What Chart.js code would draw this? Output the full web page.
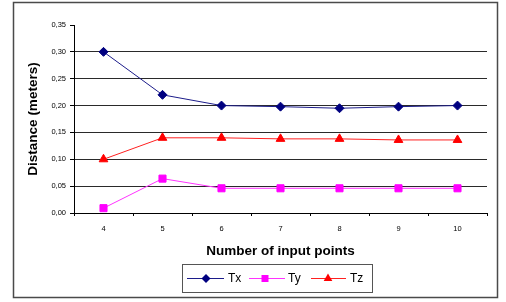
<!DOCTYPE html>
<html>
<head>
<meta charset="utf-8">
<script src="https://cdn.jsdelivr.net/npm/chart.js@4/dist/chart.umd.min.js"></script>
<style>
  html, body { margin: 0; padding: 0; background: #fff; }
  #wrap { width: 506px; height: 302px; position: relative; }
</style>
</head>
<body>
<div id="wrap"><canvas id="c" width="506" height="302"></canvas></div>
<script>
const categories = ['4', '5', '6', '7', '8', '9', '10'];
const txValues = [0.300, 0.220, 0.200, 0.198, 0.195, 0.198, 0.200];
const tyValues = [0.009, 0.064, 0.046, 0.046, 0.046, 0.046, 0.046];
const tzValues = [0.100, 0.140, 0.140, 0.138, 0.138, 0.136, 0.136];
const seriesNames = ['Tx', 'Ty', 'Tz'];
const yTitle = 'Distance (meters)';
const xTitle = 'Number of input points';

const FONT = '"Liberation Sans", Arial, sans-serif';

const frameAndLegend = {
  id: 'frameAndLegend',
  afterDraw(chart) {
    const ctx = chart.ctx;
    ctx.save();
    ctx.strokeStyle = '#4a4a4a';
    ctx.lineWidth = 1.5;
    ctx.strokeRect(13.5, 2.5, 484, 295);
    ctx.strokeStyle = '#555';
    ctx.lineWidth = 1;
    ctx.strokeRect(182.5, 264.5, 190, 28);
    const items = [
      {x0: 187, x1: 224, mx: 206, tx: 228},
      {x0: 249, x1: 285, mx: 265, tx: 288},
      {x0: 311, x1: 346, mx: 328, tx: 350}
    ];
    const y = 278.5;
    chart.data.datasets.forEach((ds, i) => {
      const it = items[i];
      ctx.strokeStyle = ds.borderColor;
      ctx.lineWidth = 1;
      ctx.beginPath();
      ctx.moveTo(it.x0, y); ctx.lineTo(it.x1, y); ctx.stroke();
      ctx.fillStyle = ds.pointBackgroundColor;
      ctx.beginPath();
      if (ds.pointStyle === 'rectRot') {
        const r = 4.5;
        ctx.moveTo(it.mx, y - r); ctx.lineTo(it.mx + r, y); ctx.lineTo(it.mx, y + r); ctx.lineTo(it.mx - r, y);
      } else if (ds.pointStyle === 'rect') {
        ctx.rect(it.mx - 3.5, y - 3.5, 7, 7);
      } else {
        const r = 5;
        ctx.moveTo(it.mx, y - r); ctx.lineTo(it.mx + r * 0.866, y + r / 2); ctx.lineTo(it.mx - r * 0.866, y + r / 2);
      }
      ctx.closePath(); ctx.fill();
      ctx.fillStyle = '#000';
      ctx.font = '12px ' + FONT;
      ctx.textBaseline = 'middle';
      ctx.textAlign = 'left';
      ctx.fillText(ds.label, it.tx, y);
    });
    ctx.restore();
  }
};

new Chart(document.getElementById('c'), {
  type: 'line',
  data: {
    labels: categories,
    datasets: [
      { label: seriesNames[0], data: txValues, borderColor: '#1c1c8a', backgroundColor: '#000080',
        pointBackgroundColor: '#000080', pointBorderColor: '#000080', pointStyle: 'rectRot', pointRadius: 4.5, borderWidth: 1 },
      { label: seriesNames[1], data: tyValues, borderColor: '#ff33ff', backgroundColor: '#ff00ff',
        pointBackgroundColor: '#ff00ff', pointBorderColor: '#ff00ff', pointStyle: 'rect', pointRadius: 5, borderWidth: 1 },
      { label: seriesNames[2], data: tzValues, borderColor: '#ff2020', backgroundColor: '#ff0000',
        pointBackgroundColor: '#ff0000', pointBorderColor: '#ff0000', pointStyle: 'triangle', pointRadius: 5, borderWidth: 1 }
    ]
  },
  options: {
    responsive: false,
    animation: false,
    devicePixelRatio: 1,
    layout: { padding: { left: 25, right: 19, top: 25, bottom: 43 } },
    plugins: { legend: { display: false }, tooltip: { enabled: false } },
    scales: {
      x: {
        type: 'category',
        offset: true,
        afterFit(s) { s.height = 46; },
        grid: { offset: true, drawOnChartArea: false, drawTicks: true, tickLength: 3, color: '#000', tickColor: '#000' },
        border: { display: true, color: '#000', width: 1 },
        ticks: { color: '#000', font: { family: FONT, size: 7.5 }, padding: 8, maxRotation: 0 },
        title: { display: true, text: xTitle, color: '#000', font: { family: FONT, size: 13.5, weight: 'bold' }, padding: 0 }
      },
      y: {
        min: 0, max: 0.35,
        afterFit(s) { s.width = 49; },
        afterBuildTicks(s) {
          s.ticks = [0, 0.05, 0.10, 0.15, 0.20, 0.25, 0.30, 0.35].map(v => ({ value: v }));
        },
        grid: {
          drawTicks: true, tickLength: 4, tickColor: '#000',
          color: c => (c.tick && (c.tick.value > 0.001 && c.tick.value < 0.34)) ? '#2a2a2a' : 'rgba(0,0,0,0)',
          lineWidth: 1
        },
        border: { display: true, color: '#000', width: 1 },
        ticks: {
          color: '#000', font: { family: FONT, size: 7.5 }, padding: 4,
          callback: v => Number(v).toFixed(2).replace('.', ',')
        },
        title: { display: true, text: yTitle, color: '#000', font: { family: FONT, size: 13.5, weight: 'bold' }, padding: 0 }
      }
    }
  },
  plugins: [frameAndLegend]
});
</script>
</body>
</html>
